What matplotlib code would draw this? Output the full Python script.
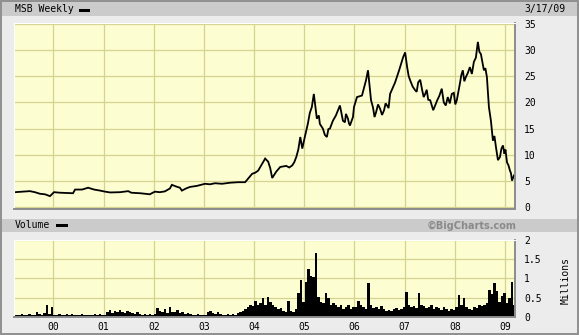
import numpy as np
import matplotlib
matplotlib.use("Agg")
import matplotlib.pyplot as plt
from matplotlib.patches import Rectangle

# ---------------- data ----------------
price_dates = [
    1999.21, 1999.23, 1999.37, 1999.53, 1999.63, 1999.73, 1999.83, 1999.93,
    2000.01, 2000.13, 2000.25, 2000.39, 2000.43, 2000.57, 2000.69, 2000.81, 2000.93,
    2001.03, 2001.13, 2001.33, 2001.49, 2001.55, 2001.73, 2001.92,
    2002.02, 2002.12, 2002.22, 2002.32, 2002.36, 2002.44, 2002.52, 2002.56, 2002.64, 2002.72, 2002.86,
    2003.02, 2003.12, 2003.22, 2003.36, 2003.52, 2003.68, 2003.82, 2003.88, 2003.96,
    2004.02, 2004.08, 2004.16, 2004.22, 2004.28, 2004.32, 2004.36, 2004.44, 2004.52, 2004.64,
    2004.70, 2004.76, 2004.80, 2004.84, 2004.88, 2004.92, 2004.96,
    2005.01, 2005.07, 2005.11, 2005.15, 2005.19, 2005.23, 2005.25, 2005.29, 2005.31, 2005.37,
    2005.41, 2005.45, 2005.48, 2005.51, 2005.57, 2005.63, 2005.71, 2005.77, 2005.81, 2005.83,
    2005.87, 2005.89, 2005.91, 2005.97, 2005.99,
    2006.05, 2006.15, 2006.23, 2006.27, 2006.33, 2006.37, 2006.40, 2006.43, 2006.47, 2006.51,
    2006.55, 2006.59, 2006.62, 2006.65, 2006.68, 2006.71, 2006.81, 2006.89, 2006.97,
    2007.01, 2007.05, 2007.08, 2007.11, 2007.16, 2007.21, 2007.24, 2007.27, 2007.31, 2007.35,
    2007.38, 2007.41, 2007.44, 2007.47, 2007.51, 2007.55, 2007.57, 2007.65, 2007.69, 2007.74,
    2007.78, 2007.82, 2007.86, 2007.90, 2007.94, 2007.98,
    2008.01, 2008.04, 2008.10, 2008.13, 2008.16, 2008.19, 2008.22, 2008.26, 2008.30, 2008.34,
    2008.38, 2008.42, 2008.46, 2008.49, 2008.52, 2008.55, 2008.58, 2008.61, 2008.64, 2008.68,
    2008.72, 2008.76, 2008.79, 2008.82, 2008.86, 2008.90, 2008.93, 2008.96, 2008.99,
    2009.01, 2009.04, 2009.07, 2009.10, 2009.12, 2009.14, 2009.18]
price_values = [
    2.9, 2.9, 3.0, 3.1, 2.9, 2.6, 2.5, 2.15,
    2.9, 2.8, 2.75, 2.7, 3.4, 3.4, 3.75, 3.4, 3.2,
    3.0, 2.85, 2.9, 3.1, 2.8, 2.7, 2.5,
    3.0, 2.9, 3.05, 3.6, 4.3, 4.0, 3.75, 3.2, 3.6, 3.9, 4.1,
    4.5, 4.4, 4.6, 4.5, 4.7, 4.8, 4.8, 5.5, 6.4,
    6.6, 7.0, 8.3, 9.3, 8.7, 7.5, 5.6, 6.8, 7.7, 7.9,
    7.6, 8.0, 8.6, 9.6, 11.0, 13.4, 11.2,
    13.4, 15.9, 18.0, 19.1, 21.6, 18.5, 16.9, 17.5, 15.9, 15.0,
    13.8, 13.4, 14.9, 15.0, 16.5, 17.5, 19.4, 16.5, 16.2, 17.8,
    16.9, 16.0, 15.6, 17.2, 19.1,
    21.0, 21.3, 24.2, 26.1, 20.4, 19.0, 17.2, 18.1, 19.6, 18.8,
    17.6, 18.5, 19.8, 19.4, 18.9, 21.6, 23.8, 26.1, 28.6,
    29.5, 26.7, 25.0, 24.2, 23.0, 22.3, 22.0, 23.8, 24.3, 22.3,
    21.0, 21.6, 22.4, 20.5, 20.4, 19.1, 18.5, 20.4, 21.2, 22.6,
    20.0, 19.4, 21.0, 19.8, 21.6, 21.8,
    19.6, 20.4, 23.5, 25.2, 26.1, 24.0, 24.8, 25.6, 26.7, 25.4,
    27.7, 28.5, 31.5, 29.6, 29.2, 27.6, 26.1, 26.5, 24.8, 19.1,
    16.5, 12.7, 13.6, 11.5, 9.0, 9.6, 11.2, 11.8, 10.2,
    11.0, 8.6, 8.0, 7.0, 6.5, 5.1, 6.1]
assert len(price_dates) == len(price_values)

vol_1999 = [0.05, 0.06, 0.05, 0.08, 0.05, 0.06, 0.07, 0.05, 0.06, 0.12, 0.08, 0.06, 0.1, 0.3, 0.08, 0.25]
vol_2000 = [0.06, 0.05, 0.07, 0.04, 0.06, 0.08, 0.05, 0.07, 0.05, 0.04, 0.06, 0.09, 0.05, 0.06, 0.04, 0.05, 0.07, 0.06, 0.08, 0.05]
vol_2001 = [0.06, 0.12, 0.18, 0.1, 0.15, 0.12, 0.18, 0.14, 0.1, 0.16, 0.12, 0.1, 0.08, 0.12, 0.07, 0.06, 0.08, 0.05, 0.07, 0.06]
vol_2002 = [0.08, 0.22, 0.15, 0.12, 0.2, 0.1, 0.25, 0.14, 0.12, 0.18, 0.1, 0.13, 0.08, 0.1, 0.07, 0.06, 0.05, 0.08, 0.06, 0.05]
vol_2003 = [0.06, 0.12, 0.15, 0.1, 0.08, 0.12, 0.07, 0.06, 0.05, 0.07, 0.06, 0.08, 0.05, 0.1, 0.12, 0.15, 0.2, 0.25, 0.3, 0.28]
vol_2004 = [0.42, 0.3, 0.35, 0.48, 0.3, 0.52, 0.4, 0.3, 0.25, 0.2, 0.22, 0.15, 0.12, 0.42, 0.15, 0.12, 0.2, 0.63, 0.96, 0.4]
vol_2005 = [0.91, 1.25, 1.06, 1.03, 1.64, 0.52, 0.4, 0.35, 0.63, 0.5, 0.3, 0.35, 0.3, 0.25, 0.3, 0.2, 0.25, 0.3, 0.2, 0.25]
vol_2006 = [0.25, 0.42, 0.3, 0.25, 0.2, 0.88, 0.3, 0.22, 0.25, 0.2, 0.28, 0.2, 0.15, 0.18, 0.15, 0.2, 0.22, 0.18, 0.2, 0.25]
vol_2007 = [0.65, 0.3, 0.25, 0.28, 0.22, 0.63, 0.3, 0.28, 0.22, 0.25, 0.3, 0.2, 0.25, 0.22, 0.18, 0.25, 0.2, 0.15, 0.2, 0.18]
vol_2008 = [0.25, 0.56, 0.3, 0.48, 0.25, 0.2, 0.18, 0.25, 0.22, 0.3, 0.28, 0.3, 0.35, 0.7, 0.6, 0.89, 0.68, 0.4, 0.55, 0.62]
vol_2009 = [0.35, 0.5, 0.91, 0.3]
volume = vol_1999 + vol_2000 + vol_2001 + vol_2002 + vol_2003 + vol_2004 + vol_2005 + vol_2006 + vol_2007 + vol_2008 + vol_2009
vol_start, vol_end = 1999.22, 2009.19

year_ticks = [2000, 2001, 2002, 2003, 2004, 2005, 2006, 2007, 2008, 2009]
year_labels = ["00", "01", "02", "03", "04", "05", "06", "07", "08", "09"]
price_ticks = [0, 5, 10, 15, 20, 25, 30, 35]
vol_ticks = [0, 0.5, 1, 1.5, 2]
vol_tick_labels = ["0", "0.5", "1", "1.5", "2"]

# ---------------- layout helpers ----------------
W, H = 579, 335
def fx(px): return px / W
def fy(py): return 1 - py / H

MONO = "DejaVu Sans Mono"
BG = "#ececec"
STRIP = "#cbcbcb"
PANEL = "#fdfdd2"
GRID = "#d4d48e"

fig = plt.figure(figsize=(W / 100, H / 100), dpi=100)
fig.patch.set_facecolor(BG)

# header strips
fig.add_artist(Rectangle((fx(2), fy(16)), fx(575), 15 / H, transform=fig.transFigure,
                         facecolor=STRIP, edgecolor="none"))
fig.add_artist(Rectangle((fx(2), fy(232)), fx(575), 13 / H, transform=fig.transFigure,
                         facecolor=STRIP, edgecolor="none"))
# outer frame
fig.add_artist(Rectangle((fx(0.8), fy(334.2)), fx(577.4), 333.4 / H, transform=fig.transFigure,
                         facecolor="none", edgecolor="#8f8f8f", linewidth=1.4))

fig.text(fx(15), fy(9.5), "MSB Weekly", family=MONO, fontsize=7, va="center", ha="left", color="black")
fig.add_artist(Rectangle((fx(79), fy(11.5)), 11 / W, 3 / H, transform=fig.transFigure,
                         facecolor="black", edgecolor="none"))
fig.text(fx(565), fy(9), "3/17/09", family=MONO, fontsize=7, va="center", ha="right", color="black")

fig.text(fx(15), fy(225.5), "Volume", family=MONO, fontsize=7, va="center", ha="left", color="black")
fig.add_artist(Rectangle((fx(56), fy(226.7)), 12 / W, 3 / H, transform=fig.transFigure,
                         facecolor="black", edgecolor="none"))
fig.text(fx(516), fy(226), "\u00a9BigCharts.com", family="DejaVu Sans", fontweight="bold",
         fontsize=7, va="center", ha="right", color="#8a8a8a")


def style_panel(ax):
    ax.set_facecolor(PANEL)
    ax.set_axisbelow(True)
    ax.grid(True, color=GRID, linewidth=0.9)
    for s in ("top", "left"):
        ax.spines[s].set_color("white")
        ax.spines[s].set_linewidth(0.8)
    for s in ("bottom", "right"):
        ax.spines[s].set_color("#8c8c8c")
        ax.spines[s].set_linewidth(1.4)
    ax.yaxis.tick_right()
    ax.tick_params(axis="both", length=0, labelsize=7, colors="black")
    ax.set_xlim(1999.213, 2009.2)
    ax.set_xticks(year_ticks)


# price panel
ax1 = fig.add_axes([fx(14), fy(209), 501 / W, 186 / H])
ax1.plot(price_dates, price_values, color="black", linewidth=1.3, solid_joinstyle="miter")
ax1.set_ylim(-0.3, 35.1)
ax1.set_yticks(price_ticks)
style_panel(ax1)
ax1.set_xticklabels([])
ax1.tick_params(axis="y", pad=6.5)
for lab in ax1.get_yticklabels():
    lab.set_family(MONO)

# volume panel
ax2 = fig.add_axes([fx(14), fy(317), 501 / W, 77.5 / H])
vol_dates = np.linspace(vol_start, vol_end, len(volume))
step = (vol_end - vol_start) / (len(volume) - 1)
ax2.bar(vol_dates, volume, width=step, color="black", linewidth=0, align="center")
ax2.set_ylim(0, 2)
ax2.set_yticks(vol_ticks)
ax2.set_yticklabels(vol_tick_labels)
style_panel(ax2)
ax2.set_xticklabels(year_labels)
ax2.tick_params(axis="y", pad=6.5)
ax2.tick_params(axis="x", pad=3.5)
for lab in ax2.get_yticklabels() + ax2.get_xticklabels():
    lab.set_family(MONO)

fig.text(fx(566), fy(280), "Millions", family=MONO, fontsize=7, rotation=90,
         va="center", ha="center", color="black")

fig.savefig("out.png", dpi=100, facecolor=BG)
